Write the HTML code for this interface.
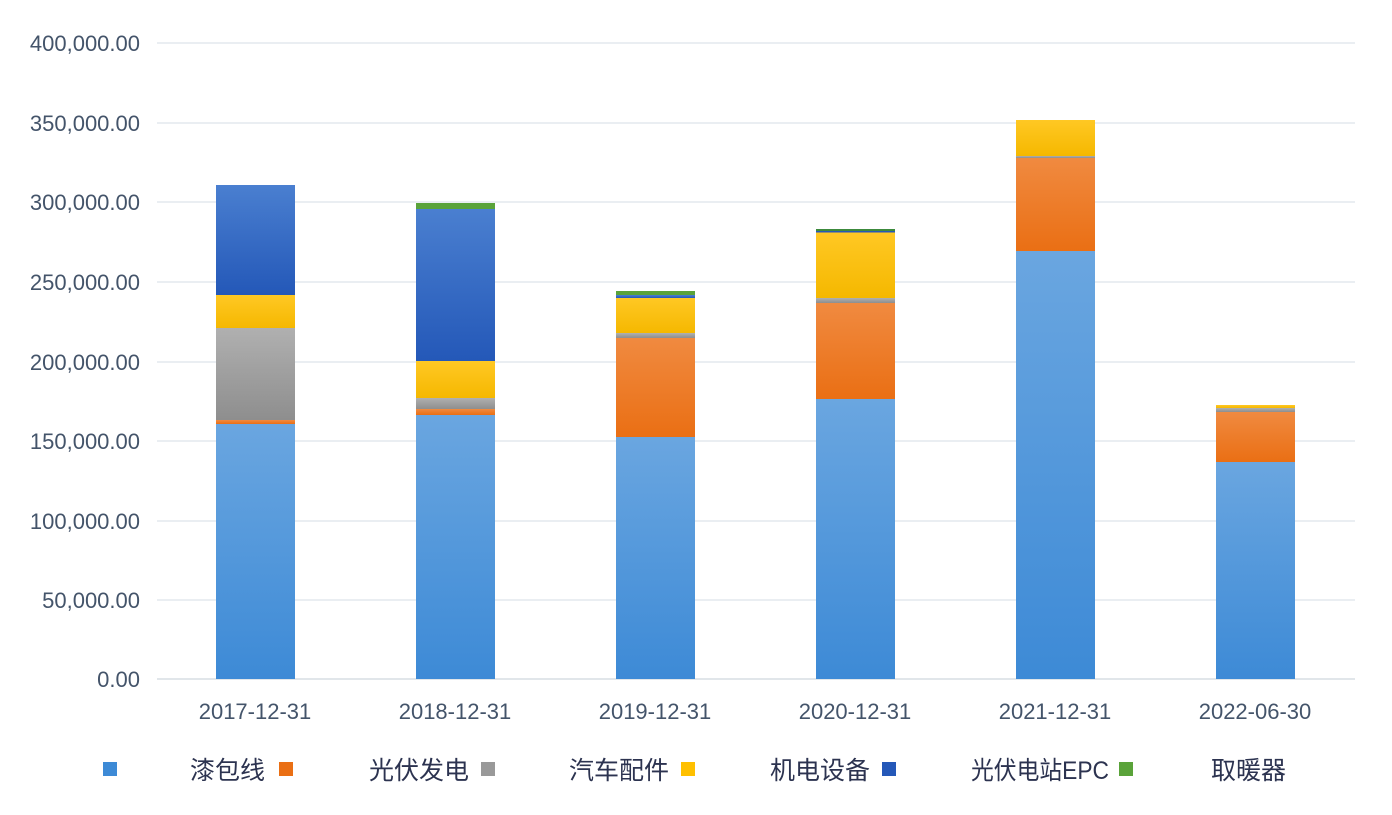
<!DOCTYPE html><html><head><meta charset="utf-8"><style>
body{margin:0;background:#fff;width:1392px;height:810px;overflow:hidden;font-family:"Liberation Sans","Noto Sans CJK SC",sans-serif}
</style></head><body>
<svg width="1392" height="810" xmlns="http://www.w3.org/2000/svg">
<defs>
<linearGradient id="lb" x1="0" y1="0" x2="0" y2="1"><stop offset="0" stop-color="#6aa6e0"/><stop offset="1" stop-color="#3d8ad6"/></linearGradient>
<linearGradient id="db" x1="0" y1="0" x2="0" y2="1"><stop offset="0" stop-color="#4a7fd0"/><stop offset="1" stop-color="#2458b8"/></linearGradient>
<linearGradient id="or" x1="0" y1="0" x2="0" y2="1"><stop offset="0" stop-color="#f08a40"/><stop offset="1" stop-color="#ea6f14"/></linearGradient>
<linearGradient id="gr" x1="0" y1="0" x2="0" y2="1"><stop offset="0" stop-color="#b0b0b0"/><stop offset="1" stop-color="#8e8e8e"/></linearGradient>
<linearGradient id="ye" x1="0" y1="0" x2="0" y2="1"><stop offset="0" stop-color="#ffc824"/><stop offset="1" stop-color="#f5b800"/></linearGradient>
</defs>
<g stroke="#dde3ea" stroke-width="1.2">
<line x1="157" x2="1355" y1="43" y2="43"/><line x1="157" x2="1355" y1="123" y2="123"/><line x1="157" x2="1355" y1="202" y2="202"/><line x1="157" x2="1355" y1="282" y2="282"/><line x1="157" x2="1355" y1="362" y2="362"/><line x1="157" x2="1355" y1="441" y2="441"/><line x1="157" x2="1355" y1="521" y2="521"/><line x1="157" x2="1355" y1="600" y2="600"/><line x1="157" x2="1355" y1="679" y2="679" stroke="#cfd6de"/>
</g>
<g font-size="22" fill="#44546a" text-anchor="end">
<text x="140" y="51">400,000.00</text><text x="140" y="131">350,000.00</text><text x="140" y="210">300,000.00</text><text x="140" y="290">250,000.00</text><text x="140" y="370">200,000.00</text><text x="140" y="449">150,000.00</text><text x="140" y="529">100,000.00</text><text x="140" y="608">50,000.00</text><text x="140" y="687">0.00</text>
</g>
<g>
<rect x="216" y="424" width="79" height="255" fill="url(#lb)"/><rect x="216" y="420" width="79" height="4" fill="url(#or)"/><rect x="216" y="328" width="79" height="92" fill="url(#gr)"/><rect x="216" y="295" width="79" height="33" fill="url(#ye)"/><rect x="216" y="185" width="79" height="110" fill="url(#db)"/>
<rect x="416" y="415" width="79" height="264" fill="url(#lb)"/><rect x="416" y="409" width="79" height="6" fill="url(#or)"/><rect x="416" y="398" width="79" height="11" fill="url(#gr)"/><rect x="416" y="361" width="79" height="37" fill="url(#ye)"/><rect x="416" y="209" width="79" height="152" fill="url(#db)"/><rect x="416" y="203" width="79" height="6" fill="#5aa33a"/>
<rect x="616" y="437" width="79" height="242" fill="url(#lb)"/><rect x="616" y="338" width="79" height="99" fill="url(#or)"/><rect x="616" y="333" width="79" height="5" fill="url(#gr)"/><rect x="616" y="298" width="79" height="35" fill="url(#ye)"/><rect x="616" y="295" width="79" height="3" fill="url(#db)"/><rect x="616" y="291" width="79" height="4" fill="#5aa33a"/>
<rect x="816" y="399" width="79" height="280" fill="url(#lb)"/><rect x="816" y="303" width="79" height="96" fill="url(#or)"/><rect x="816" y="298" width="79" height="5" fill="url(#gr)"/><rect x="816" y="232" width="79" height="66" fill="url(#ye)"/><rect x="816" y="231" width="79" height="1.5" fill="#2458b8"/><rect x="816" y="229" width="79" height="2" fill="#3c8a3c"/>
<rect x="1016" y="251" width="79" height="428" fill="url(#lb)"/><rect x="1016" y="158" width="79" height="93" fill="url(#or)"/><rect x="1016" y="156" width="79" height="2" fill="url(#gr)"/><rect x="1016" y="120" width="79" height="36" fill="url(#ye)"/>
<rect x="1216" y="462" width="79" height="217" fill="url(#lb)"/><rect x="1216" y="412" width="79" height="50" fill="url(#or)"/><rect x="1216" y="408" width="79" height="4" fill="url(#gr)"/><rect x="1216" y="405" width="79" height="3" fill="url(#ye)"/>
</g>
<g font-size="22" fill="#44546a" text-anchor="middle">
<text x="255" y="719">2017-12-31</text><text x="455" y="719">2018-12-31</text><text x="655" y="719">2019-12-31</text><text x="855" y="719">2020-12-31</text><text x="1055" y="719">2021-12-31</text><text x="1255" y="719">2022-06-30</text>
</g>
<g>
<rect x="103" y="762" width="14" height="14" fill="#3d8ad6"/>
<rect x="279" y="762" width="14" height="14" fill="#ea6f14"/>
<rect x="481" y="762" width="14" height="14" fill="#999"/>
<rect x="681" y="762" width="14" height="14" fill="#ffc000"/>
<rect x="882" y="762" width="14" height="14" fill="#2458b8"/>
<rect x="1119" y="762" width="14" height="14" fill="#5aa33a"/>
</g>
<g font-size="25" fill="#2c3350">
<text x="190" y="779">漆包线</text><text x="369" y="779">光伏发电</text><text x="569" y="779">汽车配件</text><text x="770" y="779">机电设备</text><text x="971" y="779" textLength="138" lengthAdjust="spacingAndGlyphs">光伏电站EPC</text><text x="1211" y="779">取暖器</text>
</g>
</svg>
</body></html>
